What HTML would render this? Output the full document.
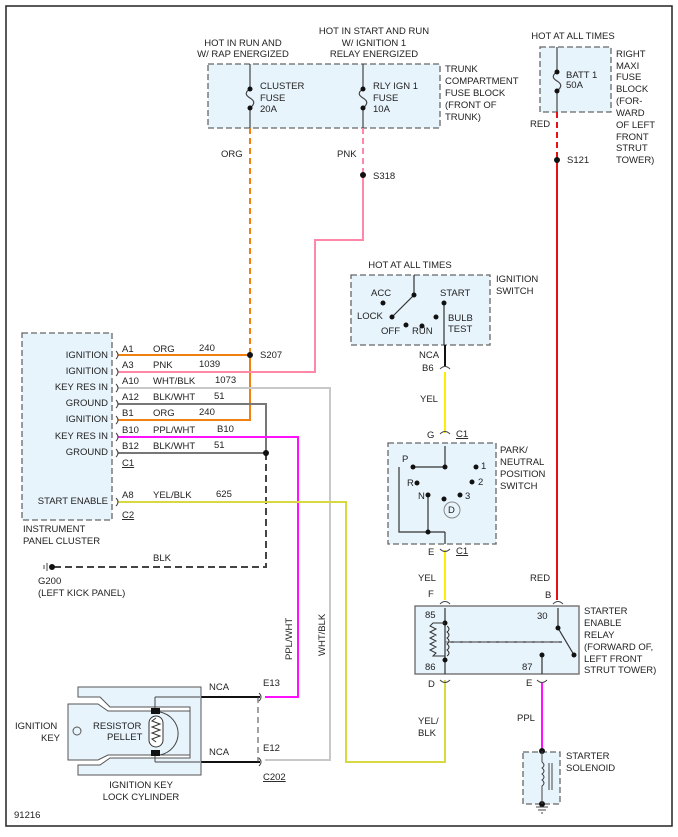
<!DOCTYPE html>
<html><head><meta charset="utf-8"><style>
body{margin:0;background:#fff}
svg text{font-family:"Liberation Sans",sans-serif;font-size:9.5px;fill:#222}
</style></head><body>
<svg width="678" height="832" viewBox="0 0 678 832" xmlns="http://www.w3.org/2000/svg">
<rect x="6" y="6" width="666" height="820" fill="#fff" stroke="#222" stroke-width="1.5"/>
<g fill="#e8f4fc" stroke="#666" stroke-width="1.3" stroke-dasharray="6,3">
<rect x="208" y="64" width="232" height="64"/>
<rect x="540" y="47" width="71" height="65"/>
<rect x="351" y="275" width="139" height="70"/>
<rect x="388" y="443" width="108" height="101"/>
<rect x="22" y="333" width="90" height="187"/>
<rect x="523" y="752" width="37" height="52"/>
</g>
<rect x="415" y="606" width="164" height="68" fill="#e8f4fc" stroke="#666" stroke-width="1.3"/>
<!-- fuses -->
<g stroke="#444" stroke-width="1.2" fill="none">
<path d="M250 64V89M250 108V128M250 89c-5 3-5 6 0 9c5 3 5 6 0 10"/>
<path d="M363 64V89M363 108V128M363 89c-5 3-5 6 0 9c5 3 5 6 0 10"/>
<path d="M557 47V72M557 91V112M557 72c-5 3-5 6 0 9c5 3 5 6 0 10"/>
</g>
<g fill="#111"><circle cx="250" cy="89" r="2.5"/><circle cx="250" cy="108" r="2.5"/><circle cx="363" cy="89" r="2.5"/><circle cx="363" cy="108" r="2.5"/><circle cx="557" cy="72" r="2.5"/><circle cx="557" cy="91" r="2.5"/></g>
<!-- wires -->
<g fill="none" stroke-width="2">
<path d="M250 128V355" stroke="#f08010" stroke-dasharray="6,4"/>
<path d="M118 355H250V420H118" stroke="#f08010"/>
<path d="M363 128V175" stroke="#ff88a8" stroke-dasharray="6,4"/>
<path d="M363 175V240H315V372H118" stroke="#ff88a8"/>
<path d="M557 112V160" stroke="#e81010" stroke-dasharray="6,4"/>
<path d="M557 160V600" stroke="#e81010"/>
<path d="M118 388H330V760H265" stroke="#c8c8c8"/>
<path d="M118 404H266V453M118 453H266" stroke="#777"/>
<path d="M266 453V567H52" stroke="#444" stroke-dasharray="7,4"/>
<path d="M118 437H298V697H265" stroke="#ff10ff"/>
<path d="M118 502H346V762H445V680" stroke="#d8d840"/>
<path d="M445 372V433M445 550V600" stroke="#f8f000"/>
<path d="M542 682V751" stroke="#ff10ff"/>
<path d="M445 345V366M200 697H260M200 762H260" stroke="#111"/>
</g>
<path d="M258 697V762" stroke="#444" stroke-dasharray="6,4" fill="none"/>
<g fill="#111"><circle cx="250" cy="355" r="3"/><circle cx="363" cy="175" r="3"/><circle cx="557" cy="160" r="3"/><circle cx="266" cy="453" r="3"/><circle cx="52" cy="567" r="3"/><circle cx="542" cy="751" r="3"/><circle cx="542" cy="804" r="3"/></g>
<path d="M47 563v8M44 565v4" stroke="#444"/>
<!-- connector marks -->
<g fill="none" stroke="#444" stroke-width="1">
<path d="M116 351q4 4 0 8M116 368q4 4 0 8M116 384q4 4 0 8M116 400q4 4 0 8M116 416q4 4 0 8M116 433q4 4 0 8M116 449q4 4 0 8M116 498q4 4 0 8"/>
<path d="M440 369q5-5 10 0M440 434q5-5 10 0M440 549q5 5 10 0M440 604q5-5 10 0M553 604q5-5 10 0M440 680q5 5 10 0M537 680q5 5 10 0"/>
<path d="M259 693q4 4 0 8M259 758q4 4 0 8"/>
</g>
<!-- ignition switch -->
<g stroke="#333" stroke-width="1.2" fill="none"><path d="M414 275V295L392 317M444 303V345M445 446V467H413M445 532V544M399 467V532H445M428 495V532"/>
<path d="M445 608V674M558 608V628L574 655M542 655V674M450 642H562" /></g>
<path d="M445 642H562" stroke="#666" stroke-dasharray="6,3" fill="none"/>
<g fill="#111"><circle cx="414" cy="295" r="2.5"/><circle cx="392" cy="317" r="2.5"/><circle cx="383" cy="303" r="2.5"/><circle cx="406" cy="325" r="2.5"/><circle cx="422" cy="326" r="2.5"/><circle cx="436" cy="317" r="2.5"/><circle cx="444" cy="303" r="2.5"/>
<circle cx="445" cy="467" r="2.5"/><circle cx="413" cy="467" r="2.5"/><circle cx="417" cy="483" r="2.5"/><circle cx="428" cy="495" r="2.5"/><circle cx="428" cy="532" r="2.5"/><circle cx="476" cy="467" r="2.5"/><circle cx="472" cy="482" r="2.5"/><circle cx="460" cy="495" r="2.5"/><circle cx="444" cy="499" r="2.5"/>
<circle cx="445" cy="623" r="2.5"/><circle cx="445" cy="660" r="2.5"/><circle cx="558" cy="628" r="2.5"/><circle cx="574" cy="655" r="2.5"/><circle cx="542" cy="655" r="2.5"/></g>
<circle cx="452" cy="510" r="8" fill="none" stroke="#888"/>
<path d="M445 623H433l-3 3 6 3-6 3 6 3-6 3 6 3-6 3 6 3-6 3 6 3-3 3H445M447 626q4 3 0 6q4 3 0 6q4 3 0 6q4 3 0 6q4 3 0 6" stroke="#333" fill="none"/>
<!-- solenoid -->
<path d="M542 751V762q4 3 0 6q4 3 0 6q4 3 0 6q4 3 0 6V804M549 763V790M552 763V790M536 807h12M538 810h8M541 813h2" stroke="#444" fill="none"/>
<!-- lock cylinder -->
<path d="M78 687H201V775H78V765H100L110 758H190V707H110L100 697H78Z" fill="#e8f4fc" stroke="#555"/>
<path d="M68 704H98L108 711H190V755H108L98 760H68Z" fill="#e8f4fc" stroke="#555"/>
<path d="M155 697V711M155 755V762M155 697H200M155 762H200M160 712a23 22 0 0 1 0 43" fill="none" stroke="#444"/>
<rect x="151" y="708" width="9" height="6" fill="#111"/><rect x="151" y="750" width="9" height="6" fill="#111"/>
<rect x="149" y="716" width="14" height="31" rx="7" fill="#fff" stroke="#333"/>
<path d="M156 718l-4 3 8 3-8 3 8 3-8 3 8 3-8 3 4 3" stroke="#333" fill="none"/>
<circle cx="77" cy="731" r="4" fill="none" stroke="#555"/>
<!-- texts -->
<g text-anchor="middle"><text x="243" y="46">HOT IN RUN AND</text><text x="243" y="57">W/ RAP ENERGIZED</text>
<text x="374" y="34">HOT IN START AND RUN</text><text x="374" y="46">W/ IGNITION 1</text><text x="374" y="57">RELAY ENERGIZED</text>
<text x="573" y="39">HOT AT ALL TIMES</text><text x="410" y="268">HOT AT ALL TIMES</text>
<text x="141" y="788">IGNITION KEY</text><text x="141" y="800">LOCK CYLINDER</text></g>
<text x="260" y="89">CLUSTER</text><text x="260" y="101">FUSE</text><text x="260" y="112">20A</text>
<text x="373" y="89">RLY IGN 1</text><text x="373" y="101">FUSE</text><text x="373" y="112">10A</text>
<text x="445" y="72">TRUNK</text><text x="445" y="84">COMPARTMENT</text><text x="445" y="96">FUSE BLOCK</text><text x="445" y="108">(FRONT OF</text><text x="445" y="120">TRUNK)</text>
<text x="566" y="78">BATT 1</text><text x="566" y="88">50A</text>
<g><text x="616" y="57">RIGHT</text><text x="616" y="69">MAXI</text><text x="616" y="80">FUSE</text><text x="616" y="92">BLOCK</text><text x="616" y="104">(FOR-</text><text x="616" y="116">WARD</text><text x="616" y="128">OF LEFT</text><text x="616" y="140">FRONT</text><text x="616" y="151">STRUT</text><text x="616" y="163">TOWER)</text></g>
<text x="221" y="157">ORG</text><text x="337" y="157">PNK</text><text x="373" y="179">S318</text><text x="530" y="127">RED</text><text x="567" y="163">S121</text><text x="260" y="358">S207</text>
<g text-anchor="end"><text x="108" y="358">IGNITION</text><text x="108" y="374">IGNITION</text><text x="108" y="390">KEY RES IN</text><text x="108" y="406">GROUND</text><text x="108" y="422">IGNITION</text><text x="108" y="439">KEY RES IN</text><text x="108" y="455">GROUND</text><text x="108" y="504">START ENABLE</text></g>
<text x="122" y="352">A1</text><text x="122" y="368">A3</text><text x="122" y="384">A10</text><text x="122" y="400">A12</text><text x="122" y="416">B1</text><text x="122" y="433">B10</text><text x="122" y="449">B12</text><text x="122" y="466" text-decoration="underline">C1</text><text x="122" y="498">A8</text><text x="122" y="518" text-decoration="underline">C2</text>
<text x="153" y="352">ORG</text><text x="153" y="368">PNK</text><text x="153" y="384">WHT/BLK</text><text x="153" y="400">BLK/WHT</text><text x="153" y="416">ORG</text><text x="153" y="433">PPL/WHT</text><text x="153" y="449">BLK/WHT</text><text x="153" y="498">YEL/BLK</text>
<text x="199" y="351">240</text><text x="199" y="367">1039</text><text x="215" y="383">1073</text><text x="214" y="399">51</text><text x="199" y="415">240</text><text x="217" y="432">B10</text><text x="214" y="448">51</text><text x="216" y="497">625</text>
<text x="23" y="532">INSTRUMENT</text><text x="23" y="544">PANEL CLUSTER</text>
<text x="153" y="561">BLK</text><text x="38" y="584">G200</text><text x="38" y="596">(LEFT KICK PANEL)</text>
<text x="292" y="660" transform="rotate(-90 292 660)">PPL/WHT</text><text x="325" y="656" transform="rotate(-90 325 656)">WHT/BLK</text>
<text x="371" y="296">ACC</text><text x="357" y="319">LOCK</text><text x="381" y="334">OFF</text><text x="412" y="334">RUN</text><text x="440" y="296">START</text><text x="448" y="321">BULB</text><text x="448" y="332">TEST</text>
<text x="496" y="282">IGNITION</text><text x="496" y="294">SWITCH</text>
<text x="419" y="358">NCA</text><text x="422" y="371">B6</text><text x="420" y="402">YEL</text>
<text x="427" y="438">G</text><text x="456" y="437" text-decoration="underline">C1</text>
<text x="402" y="462">P</text><text x="407" y="486">R</text><text x="418" y="499">N</text><text x="481" y="469">1</text><text x="478" y="485">2</text><text x="465" y="499">3</text><text x="448" y="513" font-size="8">D</text>
<text x="500" y="453">PARK/</text><text x="500" y="465">NEUTRAL</text><text x="500" y="477">POSITION</text><text x="500" y="489">SWITCH</text>
<text x="428" y="555">E</text><text x="456" y="554" text-decoration="underline">C1</text>
<text x="418" y="581">YEL</text><text x="530" y="581">RED</text><text x="428" y="597">F</text><text x="545" y="598">B</text>
<text x="425" y="618">85</text><text x="537" y="619">30</text><text x="425" y="670">86</text><text x="522" y="670">87</text>
<text x="584" y="614">STARTER</text><text x="584" y="626">ENABLE</text><text x="584" y="638">RELAY</text><text x="584" y="650">(FORWARD OF,</text><text x="584" y="662">LEFT FRONT</text><text x="584" y="673">STRUT TOWER)</text>
<text x="428" y="687">D</text><text x="526" y="686">E</text><text x="418" y="724">YEL/</text><text x="418" y="736">BLK</text><text x="517" y="721">PPL</text>
<text x="566" y="759">STARTER</text><text x="566" y="771">SOLENOID</text>
<text x="209" y="690">NCA</text><text x="209" y="755">NCA</text><text x="263" y="686">E13</text><text x="263" y="751">E12</text><text x="263" y="780" text-decoration="underline">C202</text>
<text x="15" y="729">IGNITION</text><text x="41" y="741">KEY</text><text x="93" y="729">RESISTOR</text><text x="107" y="740">PELLET</text>
<text x="14" y="818">91216</text>
</svg>
</body></html>
